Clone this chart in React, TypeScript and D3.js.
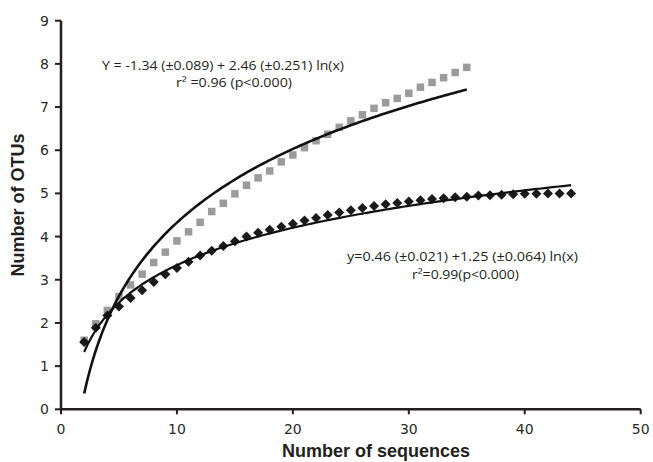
import React from "react";
import * as d3 from "d3";

const xTicks = [0, 10, 20, 30, 40, 50];
const yTicks = [0, 1, 2, 3, 4, 5, 6, 7, 8, 9];

const blackX = [2,3,4,5,6,7,8,9,10,11,12,13,14,15,16,17,18,19,20,21,22,23,24,25,26,27,28,29,30,31,32,33,34,35,36,37,38,39,40,41,42,43,44];
const blackY = [1.56,1.89,2.17,2.38,2.58,2.76,2.95,3.13,3.27,3.42,3.56,3.67,3.78,3.89,4.0,4.09,4.16,4.23,4.3,4.37,4.43,4.5,4.56,4.61,4.66,4.71,4.75,4.78,4.81,4.84,4.87,4.89,4.91,4.92,4.95,4.96,4.97,4.98,4.99,4.99,5.0,5.0,5.0];

const grayX = [2,3,4,5,6,7,8,9,10,11,12,13,14,15,16,17,18,19,20,21,22,23,24,25,26,27,28,29,30,31,32,33,34,35];
const grayY = [1.6,1.98,2.29,2.61,2.88,3.13,3.4,3.64,3.9,4.11,4.33,4.58,4.77,4.99,5.19,5.36,5.52,5.73,5.89,6.06,6.22,6.37,6.53,6.68,6.82,6.97,7.1,7.2,7.32,7.46,7.57,7.68,7.8,7.92];

// logarithmic trend lines: y = a + b ln(x), over [xStart, xEnd]
const grayFit = [-1.34, 2.46];
const grayFitRange = [2, 35];
const blackFit = [0.46, 1.25];
const blackFitRange = [2, 44];

const eq1 = ["Y  = -1.34 (±0.089) + 2.46 (±0.251) ln(x)", "r² =0.96  (p<0.000)"];
const eq2 = ["y=0.46  (±0.021) +1.25  (±0.064) ln(x)", "r²=0.99(p<0.000)"];

const W = 653, H = 462;

export default function App() {
  const x = d3.scaleLinear().domain([0, 50]).range([61, 640.7]);
  const y = d3.scaleLinear().domain([0, 9]).range([409.3, 20.7]);

  const fitPath = (c: number[], r: number[]) => {
    const pts: [number, number][] = [];
    const n = 120;
    for (let i = 0; i <= n; i++) {
      const xv = r[0] + ((r[1] - r[0]) * i) / n;
      pts.push([xv, c[0] + c[1] * Math.log(xv)]);
    }
    return d3.line<[number, number]>().x((d) => x(d[0])).y((d) => y(d[1])).curve(d3.curveMonotoneX)(pts) || "";
  };

  const sq = 7.5;
  const dm = 5;
  const axisColor = "#231f20";
  const tickFont = "DejaVu Sans, Verdana, sans-serif";
  const eqFont = "'Open Sans', 'Liberation Sans', sans-serif";

  return (
    <svg width={W} height={H} style={{ position: "absolute", left: 0, top: 0, background: "#fff" }}>
      <rect x={0} y={0} width={W} height={H} fill="#fff" />
      {/* gray squares */}
      {grayX.map((xv, i) => (
        <rect key={"g" + i} x={x(xv) - sq / 2} y={y(grayY[i]) - sq / 2} width={sq} height={sq} fill="#9b9b9b" />
      ))}
      {/* black diamonds */}
      {blackX.map((xv, i) => {
        const cx = x(xv), cy = y(blackY[i]);
        return (
          <path key={"b" + i} d={`M${cx},${cy - dm}L${cx + dm},${cy}L${cx},${cy + dm}L${cx - dm},${cy}Z`} fill="#1a1a1a" />
        );
      })}
      {/* trend lines */}
      <path d={fitPath(grayFit, grayFitRange)} fill="none" stroke="#111" strokeWidth={2.6} />
      <path d={fitPath(blackFit, blackFitRange)} fill="none" stroke="#111" strokeWidth={2.2} />

      {/* axes */}
      <line x1={x(0)} x2={x(0)} y1={y(0)} y2={y(9)} stroke={axisColor} strokeWidth={2.5} />
      <line x1={x(0)} x2={x(50)} y1={y(0)} y2={y(0)} stroke={axisColor} strokeWidth={2.5} />
      {yTicks.map((t) => (
        <g key={"yt" + t}>
          <line x1={x(0) - 6} x2={x(0)} y1={y(t)} y2={y(t)} stroke={axisColor} strokeWidth={2} />
          <text x={x(0) - 12} y={y(t)} dy="0.36em" textAnchor="end" fontFamily={tickFont} fontSize={14} fill="#2a2a2a">{t}</text>
        </g>
      ))}
      {xTicks.map((t) => (
        <g key={"xt" + t}>
          <line x1={x(t)} x2={x(t)} y1={y(0)} y2={y(0) + 5} stroke={axisColor} strokeWidth={2} />
          <text x={x(t)} y={y(0) + 25} textAnchor="middle" fontFamily={tickFont} fontSize={14} fill="#2a2a2a">{t}</text>
        </g>
      ))}
      <text x={376} y={457} textAnchor="middle" fontFamily="'Liberation Sans', Arial, sans-serif" fontWeight="bold" fontSize={18} fill="#231f20">Number of sequences</text>
      <text transform={`translate(24,205) rotate(-90)`} textAnchor="middle" fontFamily="'Liberation Sans', Arial, sans-serif" fontWeight="bold" fontSize={18} fill="#231f20">Number of OTUs</text>

      {/* equations */}
      <text x={102} y={70} fontFamily={eqFont} fontSize={12.5} fill="#231f20" textLength={242} lengthAdjust="spacingAndGlyphs">{eq1[0]}</text>
      <text x={176} y={87} fontFamily={eqFont} fontSize={12.5} fill="#231f20" textLength={116} lengthAdjust="spacingAndGlyphs">{eq1[1]}</text>
      <text x={347} y={261} fontFamily={eqFont} fontSize={12.5} fill="#231f20" textLength={231} lengthAdjust="spacingAndGlyphs">{eq2[0]}</text>
      <text x={412} y={279} fontFamily={eqFont} fontSize={12.5} fill="#231f20" textLength={107} lengthAdjust="spacingAndGlyphs">{eq2[1]}</text>
    </svg>
  );
}
